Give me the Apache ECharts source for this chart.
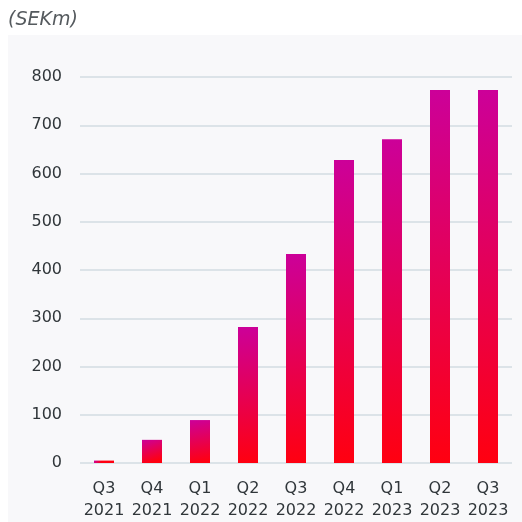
<!DOCTYPE html>
<html><head><meta charset="utf-8">
<script src="https://cdn.jsdelivr.net/npm/echarts@6/dist/echarts.min.js"></script>
<style>html,body{margin:0;padding:0;background:#fff}#c{width:522px;height:522px}</style>
</head><body><div id="c"></div>
<script>
const categories = ['Q3\n2021','Q4\n2021','Q1\n2022','Q2\n2022','Q3\n2022','Q4\n2022','Q1\n2023','Q2\n2023','Q3\n2023'];
const values = [5, 48, 89, 282, 433, 628, 671, 773, 773];
const yTicks = [0, 100, 200, 300, 400, 500, 600, 700, 800];
const unitLabel = '(SEKm)';

const chart = echarts.init(document.getElementById('c'), null, {renderer:'canvas'});
chart.setOption({
  animation: false,
  backgroundColor: '#ffffff',
  graphic: [
    {type:'rect', left:8, top:35, shape:{width:514, height:487}, style:{fill:'#f8f8fa'}, z:-10},
    {type:'text', left:8, top:11, style:{text:unitLabel, font:'italic 19px "DejaVu Sans", sans-serif', fill:'#555a5e'}}
  ],
  grid: {left:80, right:10, top:77, bottom:59},
  xAxis: {
    type:'category', data:categories,
    axisLine:{show:false}, axisTick:{show:false},
    axisLabel:{interval:0, hideOverlap:false, color:'#30363a', fontSize:16, fontFamily:'"DejaVu Sans", sans-serif', lineHeight:22, margin:15}
  },
  yAxis: {
    type:'value', min:0, max:800, interval:100,
    axisLine:{show:false}, axisTick:{show:false},
    splitLine:{lineStyle:{color:'#dce3e8', width:2}},
    axisLabel:{color:'#30363a', fontSize:16, fontFamily:'"DejaVu Sans", sans-serif', margin:18,
      formatter: v => yTicks.includes(v) ? String(v) : ''}
  },
  series: [{
    type:'bar', data:values, barWidth:20,
    itemStyle:{color:new echarts.graphic.LinearGradient(0,0,0.35,1,[{offset:0,color:'#cc0099'},{offset:1,color:'#ff0010'}])}
  }]
});
</script></body></html>
